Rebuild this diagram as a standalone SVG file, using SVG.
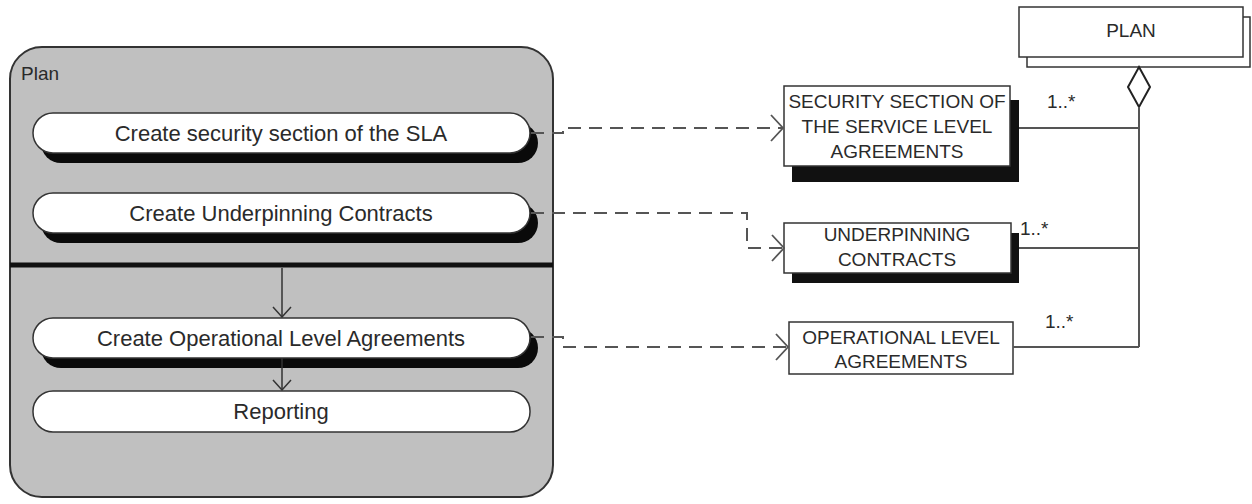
<svg xmlns="http://www.w3.org/2000/svg" width="1252" height="504" viewBox="0 0 1252 504">
<defs>
<style>
text{font-family:"Liberation Sans",Arial,sans-serif;fill:#2a2a2a}
.pill{fill:#fff;stroke:#333;stroke-width:1.5}
.psh{fill:#0a0a0a}
.box{fill:#fff;stroke:#333;stroke-width:1.5}
.bsh{fill:#111}
.act{font-size:22px;text-anchor:middle}
.obj{font-size:19px;text-anchor:middle}
.mult{font-size:19px}
.dash{fill:none;stroke:#555;stroke-width:2;stroke-dasharray:13 8}
.solid{fill:none;stroke:#555;stroke-width:2}
.flow{fill:none;stroke:#333;stroke-width:1.5}
</style>
<marker id="open" viewBox="0 0 14 28" refX="13" refY="14" markerWidth="14" markerHeight="28" markerUnits="userSpaceOnUse" orient="auto">
<path d="M1,1 L13,14 L1,27" fill="none" stroke="#555" stroke-width="1.8"/>
</marker>
<marker id="flowhead" viewBox="0 0 12 20" refX="11" refY="10" markerWidth="12" markerHeight="20" markerUnits="userSpaceOnUse" orient="auto">
<path d="M1,1 L11,10 L1,19" fill="none" stroke="#333" stroke-width="1.5"/>
</marker>
</defs>
<rect width="1252" height="504" fill="#fff"/>

<g id="plan-container">
<rect x="10" y="47" width="543" height="450" rx="32" ry="32" fill="#c0c0c0" stroke="#333" stroke-width="2"/>
<line x1="10" y1="265" x2="553" y2="265" stroke="#111" stroke-width="5"/>
<text x="21" y="80" style="font-size:19px">Plan</text>
</g>

<g id="act-security">
<rect class="psh" x="41" y="123" width="497" height="40" rx="20" ry="20"/>
<rect class="pill" x="33" y="113" width="497" height="40" rx="20" ry="20"/>
<text class="act" x="281" y="141">Create security section of the SLA</text>
</g>
<g id="act-underpinning">
<rect class="psh" x="41" y="203" width="497" height="40" rx="20" ry="20"/>
<rect class="pill" x="33" y="193" width="497" height="40" rx="20" ry="20"/>
<text class="act" x="281" y="221">Create Underpinning Contracts</text>
</g>
<g id="act-ola">
<rect class="psh" x="41" y="328" width="497" height="40" rx="20" ry="20"/>
<rect class="pill" x="33" y="318" width="497" height="40" rx="20" ry="20"/>
<text class="act" x="281" y="346">Create Operational Level Agreements</text>
</g>
<g id="act-reporting">
<rect class="pill" x="33" y="391" width="497" height="41" rx="20" ry="20"/>
<text class="act" x="281" y="419">Reporting</text>
</g>

<g id="obj-security">
<rect class="bsh" x="792" y="100" width="227" height="82"/>
<rect class="box" x="784" y="86" width="226" height="80"/>
<text class="obj" x="897" y="108">SECURITY SECTION OF</text>
<text class="obj" x="897" y="133">THE SERVICE LEVEL</text>
<text class="obj" x="897" y="158">AGREEMENTS</text>
</g>
<g id="obj-underpinning">
<rect class="bsh" x="792" y="233" width="227" height="50"/>
<rect class="box" x="784" y="223" width="227" height="50"/>
<text class="obj" x="897" y="241">UNDERPINNING</text>
<text class="obj" x="897" y="266">CONTRACTS</text>
</g>
<g id="obj-ola">
<rect class="box" x="789" y="322" width="224" height="52"/>
<text class="obj" x="901" y="344">OPERATIONAL LEVEL</text>
<text class="obj" x="901" y="368">AGREEMENTS</text>
</g>
<g id="obj-plan">
<rect class="box" x="1027" y="17" width="223" height="50"/>
<rect class="box" x="1019" y="7" width="224" height="50"/>
<text class="obj" x="1131" y="37">PLAN</text>
</g>

<g id="connectors">
<line class="flow" x1="282" y1="268" x2="282" y2="317" marker-end="url(#flowhead)"/>
<line class="flow" x1="282" y1="358" x2="282" y2="390" marker-end="url(#flowhead)"/>
<path class="dash" d="M531,133 H563 V128 H783" marker-end="url(#open)"/>
<path class="dash" d="M531,213 H747 V248 H784" marker-end="url(#open)"/>
<path class="dash" d="M531,337 H563 V347 H788" marker-end="url(#open)"/>
<path d="M1139,67 L1150,87 L1139,107 L1128,87 Z" fill="#fff" stroke="#222" stroke-width="2"/>
<path class="solid" d="M1139,107 V347"/>
<path class="solid" d="M1019,128 H1139"/>
<path class="solid" d="M1019,248 H1139"/>
<path class="solid" d="M1013,347 H1139"/>
<text class="mult" x="1047" y="108">1..*</text>
<text class="mult" x="1020" y="235">1..*</text>
<text class="mult" x="1045" y="328">1..*</text>
</g>
</svg>
